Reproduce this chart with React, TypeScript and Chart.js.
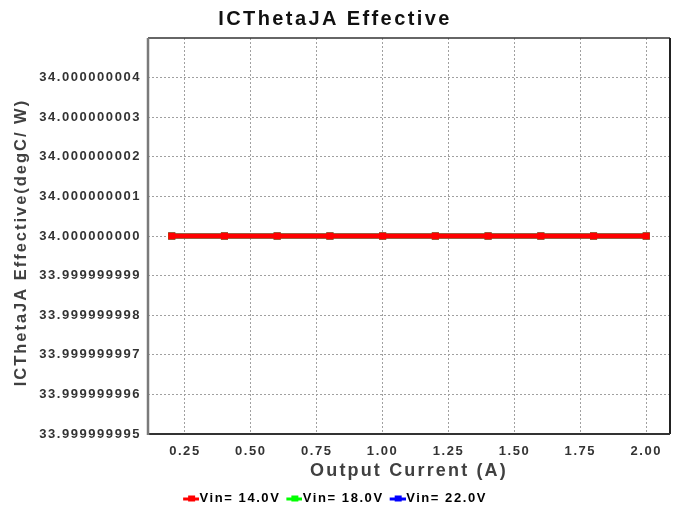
import React, { useEffect, useRef } from "react";
import { Chart, registerables } from "chart.js";

Chart.register(...registerables);

const xValues = [0.2, 0.4, 0.6, 0.8, 1.0, 1.2, 1.4, 1.6, 1.8, 2.0];
const seriesLabels = ["Vin= 14.0V", "Vin= 18.0V", "Vin= 22.0V"];
const vin14 = [34, 34, 34, 34, 34, 34, 34, 34, 34, 34];
const vin18 = [34, 34, 34, 34, 34, 34, 34, 34, 34, 34];
const vin22 = [34, 34, 34, 34, 34, 34, 34, 34, 34, 34];
const seriesColors = ["#ff0000", "#00ff00", "#0000ff"];
const xTicks = [0.25, 0.5, 0.75, 1.0, 1.25, 1.5, 1.75, 2.0];
const yTickLabels = [
  "33.999999995",
  "33.999999996",
  "33.999999997",
  "33.999999998",
  "33.999999999",
  "34.000000000",
  "34.000000001",
  "34.000000002",
  "34.000000003",
  "34.000000004",
];
const xMin = 0.11;
const xMax = 2.09;
const yMin = 33.999999995;
const yMax = 34.000000005;

const FONT = "'Liberation Sans', Arial, sans-serif";

function makeMarker(color: string) {
  const c = document.createElement("canvas");
  c.width = 22;
  c.height = 8;
  const g = c.getContext("2d")!;
  g.fillStyle = color;
  g.fillRect(6, 3, 16, 3);
  g.fillRect(11, 1, 7, 6);
  return c;
}

function spaceFont(ctx: CanvasRenderingContext2D) {
  const desc = Object.getOwnPropertyDescriptor(CanvasRenderingContext2D.prototype, "font");
  if (!desc || !desc.set || !desc.get) return;
  Object.defineProperty(ctx, "font", {
    configurable: true,
    get() {
      return desc.get!.call(this);
    },
    set(v: string) {
      desc.set!.call(this, v);
      const m = /(\d+(?:\.\d+)?)px/.exec(v);
      if (m) (this as any).letterSpacing = (parseFloat(m[1]) * 0.12).toFixed(2) + "px";
    },
  });
}

const borderPlugin = {
  id: "plotBorder",
  afterDraw(chart: any) {
    const { ctx, chartArea: a } = chart;
    ctx.save();
    ctx.strokeStyle = "#333333";
    ctx.lineWidth = 1.5;
    ctx.beginPath();
    ctx.moveTo(a.left, a.top);
    ctx.lineTo(a.right, a.top);
    ctx.stroke();
    ctx.lineWidth = 2;
    ctx.strokeStyle = "#222222";
    ctx.beginPath();
    ctx.moveTo(a.right, a.top);
    ctx.lineTo(a.right, a.bottom);
    ctx.stroke();
    ctx.strokeStyle = "#333333";
    ctx.beginPath();
    ctx.moveTo(a.left, a.bottom);
    ctx.lineTo(a.right, a.bottom);
    ctx.stroke();
    ctx.strokeStyle = "#7a7a7a";
    ctx.lineWidth = 2.5;
    ctx.beginPath();
    ctx.moveTo(a.left, a.top);
    ctx.lineTo(a.left, a.bottom + 1);
    ctx.stroke();
    ctx.restore();
  },
};

export default function App() {
  const ref = useRef<HTMLCanvasElement>(null);
  useEffect(() => {
    const canvas = ref.current!;
    const ctx = canvas.getContext("2d")!;
    spaceFont(ctx);
    const seriesData = [vin14, vin18, vin22];
    const markers = seriesColors.map(makeMarker);
    const chart = new Chart(ctx, {
      type: "line",
      data: {
        datasets: seriesLabels.map((label, i) => ({
          label,
          data: xValues.map((x, j) => ({ x, y: seriesData[i][j] })),
          borderColor: seriesColors[i],
          backgroundColor: seriesColors[i],
          borderWidth: 5,
          pointStyle: "rect",
          pointRadius: 5,
          pointBorderWidth: 0,
          fill: false,
          tension: 0,
        })),
      },
      options: {
        responsive: false,
        animation: false,
        layout: { padding: { left: 0, right: 8, top: 0, bottom: 0 } },
        plugins: {
          title: {
            display: true,
            text: "ICThetaJA Effective",
            color: "#111111",
            font: { family: FONT, size: 20, weight: "bold" },
            padding: { top: 7, bottom: 7 },
          },
          legend: {
            position: "bottom",
            labels: {
              color: "#333333",
              font: { family: FONT, size: 13, weight: "bold" },
              usePointStyle: true,
              pointStyleWidth: 10,
              boxHeight: 8,
              padding: 6,
              generateLabels: () =>
                seriesLabels.map((t, i) => ({
                  text: t,
                  fillStyle: seriesColors[i],
                  strokeStyle: seriesColors[i],
                  pointStyle: markers[i] as any,
                  lineWidth: 0,
                  hidden: false,
                  datasetIndex: i,
                })),
            },
          },
          tooltip: { enabled: false },
        },
        scales: {
          x: {
            type: "linear",
            min: xMin,
            max: xMax,
            afterBuildTicks: (s: any) => {
              s.ticks = xTicks.map((v) => ({ value: v }));
            },
            afterFit: (s: any) => {
              s.height = 52;
            },
            ticks: {
              color: "#333333",
              font: { family: FONT, size: 13, weight: "bold" },
              padding: 10,
              maxRotation: 0,
              callback: (v: any) => Number(v).toFixed(2),
            },
            grid: { color: "#a0a0a0", lineWidth: 1, drawTicks: false },
            border: { display: false, dash: [2, 2] },
            title: {
              display: true,
              text: "Output Current (A)",
              color: "#404040",
              font: { family: FONT, size: 18, weight: "bold" },
              padding: { top: 0, bottom: 4 },
            },
          },
          y: {
            type: "linear",
            min: yMin,
            max: yMax,
            afterBuildTicks: (s: any) => {
              s.ticks = yTickLabels.map((t) => ({ value: parseFloat(t) }));
            },
            afterFit: (s: any) => {
              s.width = 148;
            },
            ticks: {
              color: "#333333",
              font: { family: FONT, size: 13, weight: "bold" },
              padding: 7,
              callback: (v: any, i: number) => yTickLabels[i] ?? "",
            },
            grid: { color: "#a0a0a0", lineWidth: 1, drawTicks: false },
            border: { display: false, dash: [2, 2] },
            title: {
              display: true,
              text: "ICThetaJA Effective(degC/ W)  ",
              color: "#404040",
              font: { family: FONT, size: 16.5, weight: "bold" },
              padding: { top: 12, bottom: 0 },
            },
          },
        },
      },
      plugins: [borderPlugin],
    } as any);
    return () => chart.destroy();
  }, []);
  return (
    <div style={{ position: "absolute", left: 0, top: 0, width: 678, height: 515, background: "#fff" }}>
      <canvas ref={ref} width={678} height={515} style={{ display: "block", width: 678, height: 515 }} />
    </div>
  );
}
